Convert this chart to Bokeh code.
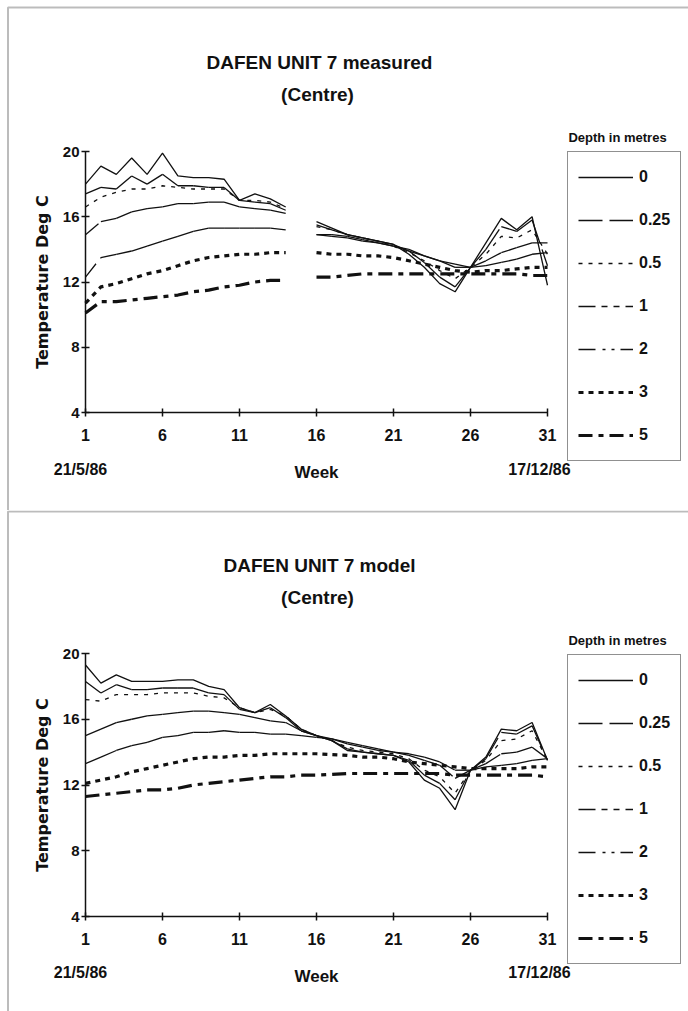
import math
from bokeh.plotting import figure
from bokeh.layouts import column
from bokeh.models import (Range1d, LinearAxis, FixedTicker, Label, Legend,
                          LegendItem, BoxAnnotation)
from bokeh.embed import file_html
from bokeh.resources import INLINE

NaN = float("nan")

# ---------------- data ----------------
weeks = list(range(1, 32))
depths = ["0", "0.25", "0.5", "1", "2", "3", "5"]
x_ticks = [1, 6, 11, 16, 21, 26, 31]
y_ticks = [4, 8, 12, 16, 20]
start_date = "21/5/86"
end_date = "17/12/86"
title_measured = "DAFEN UNIT 7 measured"
title_model = "DAFEN UNIT 7 model"
subtitle = "(Centre)"
legend_title = "Depth in metres"

meas_0 = [18.0, 19.1, 18.6, 19.6, 18.6, 19.9, 18.5, 18.4, 18.4, 18.3, 17.0, 17.4, 17.1, 16.6, NaN,
          15.7, 15.3, 14.9, 14.7, 14.5, 14.3, 13.7, 12.9, 11.9, 11.4, 12.9, 14.4, 15.9, 15.2, 16.0, 11.8]
meas_025 = [17.4, 17.8, 17.7, 18.5, 18.0, 18.6, 17.9, 17.9, 17.8, 17.8, 17.0, 16.9, 16.8, 16.4, NaN,
            15.5, 15.2, 14.9, 14.7, 14.5, 14.3, 13.9, 13.2, 12.3, 11.7, 12.9, 14.0, 15.4, 15.1, 15.8, 13.0]
meas_05 = [16.6, 17.2, 17.5, 17.7, 17.7, 17.9, 17.8, 17.7, 17.7, 17.7, 17.0, 17.0, 16.9, 16.5, NaN,
           15.4, 15.2, 14.9, 14.7, 14.5, 14.2, 13.8, 13.3, 12.7, 12.2, 12.9, 13.7, 14.8, 14.7, 15.2, 13.7]
meas_1 = [14.9, 15.7, 15.9, 16.3, 16.5, 16.6, 16.8, 16.8, 16.9, 16.9, 16.6, 16.5, 16.4, 16.2, NaN,
          14.9, 14.9, 14.8, 14.6, 14.4, 14.2, 14.0, 13.6, 13.3, 12.9, 12.9, 13.3, 13.8, 14.1, 14.4, 14.4]
meas_2 = [12.3, 13.5, 13.7, 13.9, 14.2, 14.5, 14.8, 15.1, 15.3, 15.3, 15.3, 15.3, 15.3, 15.2, NaN,
          14.9, 14.8, 14.7, 14.5, 14.4, 14.2, 13.9, 13.6, 13.3, 13.1, 12.9, 13.0, 13.2, 13.4, 13.7, 13.8]
meas_3 = [10.7, 11.7, 11.9, 12.2, 12.5, 12.7, 13.0, 13.3, 13.5, 13.6, 13.7, 13.7, 13.8, 13.8, NaN,
          13.8, 13.7, 13.7, 13.6, 13.6, 13.5, 13.3, 13.1, 12.9, 12.7, 12.6, 12.7, 12.7, 12.8, 12.9, 12.9]
meas_5 = [10.1, 10.8, 10.8, 10.9, 11.0, 11.1, 11.2, 11.4, 11.5, 11.7, 11.8, 12.0, 12.1, 12.1, NaN,
          12.3, 12.3, 12.4, 12.5, 12.5, 12.5, 12.5, 12.5, 12.5, 12.5, 12.5, 12.5, 12.5, 12.5, 12.4, 12.4]

model_0 = [19.3, 18.2, 18.7, 18.3, 18.3, 18.3, 18.4, 18.4, 18.0, 17.8, 16.7, 16.4, 16.9, 16.2, 15.4,
           15.0, 14.7, 14.1, 14.0, 13.9, 13.8, 13.4, 12.3, 11.8, 10.5, 12.9, 13.7, 15.4, 15.3, 15.8, 13.5]
model_025 = [18.3, 17.6, 18.1, 17.8, 17.8, 17.9, 17.9, 17.9, 17.6, 17.5, 16.6, 16.4, 16.7, 16.1, 15.3,
             15.0, 14.7, 14.2, 14.0, 13.9, 13.8, 13.5, 12.6, 12.1, 11.1, 12.9, 13.6, 15.2, 15.1, 15.6, 13.5]
model_05 = [17.2, 17.1, 17.5, 17.5, 17.5, 17.6, 17.6, 17.6, 17.4, 17.3, 16.7, 16.4, 16.6, 16.2, 15.4,
            15.0, 14.7, 14.3, 14.1, 14.0, 13.9, 13.6, 12.9, 12.5, 11.5, 12.9, 13.5, 14.7, 14.8, 15.3, 13.5]
model_1 = [15.0, 15.4, 15.8, 16.0, 16.2, 16.3, 16.4, 16.5, 16.5, 16.4, 16.3, 16.1, 15.9, 15.8, 15.3,
           15.0, 14.8, 14.5, 14.3, 14.1, 14.0, 13.8, 13.5, 13.2, 12.4, 12.9, 13.3, 13.9, 14.0, 14.3, 13.6]
model_2 = [13.3, 13.7, 14.1, 14.4, 14.6, 14.9, 15.0, 15.2, 15.2, 15.3, 15.2, 15.2, 15.1, 15.1, 15.0,
           14.9, 14.8, 14.6, 14.4, 14.2, 14.0, 13.9, 13.7, 13.4, 12.9, 12.9, 13.1, 13.2, 13.3, 13.5, 13.6]
model_3 = [12.1, 12.3, 12.5, 12.8, 13.0, 13.2, 13.4, 13.6, 13.7, 13.7, 13.8, 13.8, 13.9, 13.9, 13.9,
           13.9, 13.85, 13.8, 13.7, 13.7, 13.6, 13.4, 13.3, 13.2, 13.1, 13.0, 13.0, 13.0, 13.0, 13.1, 13.1]
model_5 = [11.3, 11.4, 11.5, 11.6, 11.7, 11.7, 11.8, 12.0, 12.1, 12.2, 12.3, 12.4, 12.5, 12.5, 12.6,
           12.6, 12.65, 12.7, 12.7, 12.7, 12.7, 12.7, 12.7, 12.7, 12.6, 12.6, 12.6, 12.6, 12.6, 12.6, 12.5]

measured = [meas_0, meas_025, meas_05, meas_1, meas_2, meas_3, meas_5]
model = [model_0, model_025, model_05, model_1, model_2, model_3, model_5]

# ---------------- styles ----------------
# (dash, width, dash pattern restarts at every weekly segment as in the old spreadsheet)
line_styles = [("solid", 1.3, False), ("24 7", 1.3, True), ("4 6", 1.3, False),
               ("17 6 6 6 6 6", 1.3, True), ("17 7 3 6 3 6", 1.3, True),
               ("5 5", 3.2, False), ("14 6 5 6", 3.2, False)]
FONT = "Liberation Sans"
INK = "#111111"
W = 688


def segments(vals):
    xs, ys = [], []
    for i in range(len(weeks) - 1):
        a, b = vals[i], vals[i + 1]
        if math.isnan(a) or math.isnan(b):
            continue
        xs.append([weeks[i], weeks[i + 1]])
        ys.append([a, b])
    return xs, ys


def make_panel(title, series, height, y20_px, y4_px, dy, draw_top_border):
    x1_px, x31_px = 85.0, 547.0
    xs_ = (x31_px - x1_px) / 30.0
    ys_ = (y4_px - y20_px) / 16.0

    def X(px):
        return 1 + (px - x1_px) / xs_

    def Y(py):
        return 4 + (y4_px - py) / ys_

    p = figure(width=W, height=height, output_backend="svg", toolbar_location=None,
               x_axis_type=None, y_axis_type=None,
               x_range=Range1d(X(0), X(W)), y_range=Range1d(Y(height), Y(0)),
               min_border=0, min_border_left=0, min_border_right=0,
               min_border_top=0, min_border_bottom=0)
    p.title.visible = False
    p.outline_line_color = None
    p.xgrid.visible = False
    p.ygrid.visible = False
    p.background_fill_color = "white"
    p.border_fill_color = "white"

    # panel border (left / top)
    top_edge = 1 if draw_top_border else 7
    p.add_layout(BoxAnnotation(left=X(7.5), right=X(W + 50), top=Y(top_edge),
                               bottom=Y(height + 50), fill_color=None,
                               line_color="#222222", line_width=2))

    renderers = []
    for vals, (dash, lw, per_seg) in zip(series, line_styles):
        if per_seg:
            sx, sy = segments(vals)
            r = p.multi_line(sx, sy, line_color=INK, line_width=lw, line_dash=dash)
        else:
            r = p.line(weeks, vals, line_color=INK, line_width=lw, line_dash=dash)
        renderers.append(r)

    # axes
    yaxis = LinearAxis(fixed_location=1, bounds=(4, 20), ticker=FixedTicker(ticks=y_ticks))
    yaxis.axis_label = "Temperature Deg C"
    yaxis.axis_label_text_font = "DejaVu Sans"
    yaxis.axis_label_text_font_style = "bold"
    yaxis.axis_label_text_font_size = "16px"
    yaxis.axis_label_text_color = INK
    yaxis.axis_label_standoff = 8
    yaxis.major_label_text_font = FONT
    yaxis.major_label_text_font_style = "bold"
    yaxis.major_label_text_font_size = "15px"
    yaxis.major_label_text_color = INK
    yaxis.major_label_standoff = 2
    yaxis.major_tick_in = 4
    yaxis.major_tick_out = 4
    yaxis.minor_tick_in = 0
    yaxis.minor_tick_out = 0
    yaxis.axis_line_width = 1.5
    yaxis.axis_line_color = INK
    yaxis.major_tick_line_color = INK
    yaxis.major_tick_line_width = 1.5
    p.add_layout(yaxis, "left")

    xaxis = LinearAxis(fixed_location=4, bounds=(1, 31), ticker=FixedTicker(ticks=x_ticks))
    xaxis.axis_label = "Week"
    xaxis.axis_label_text_font = FONT
    xaxis.axis_label_text_font_style = "bold"
    xaxis.axis_label_text_font_size = "17px"
    xaxis.axis_label_text_color = INK
    xaxis.axis_label_standoff = 19
    xaxis.major_label_text_font = FONT
    xaxis.major_label_text_font_style = "bold"
    xaxis.major_label_text_font_size = "16px"
    xaxis.major_label_text_color = INK
    xaxis.major_label_standoff = 12
    xaxis.major_tick_in = 4
    xaxis.major_tick_out = 4
    xaxis.minor_tick_in = 0
    xaxis.minor_tick_out = 0
    xaxis.axis_line_width = 1.5
    xaxis.axis_line_color = INK
    xaxis.major_tick_line_color = INK
    xaxis.major_tick_line_width = 1.5
    p.add_layout(xaxis, "below")

    def label(text, px, py, size, font=FONT):
        p.add_layout(Label(x=X(px), y=Y(py + dy), text=text, text_align="center",
                           text_baseline="middle", text_font=font,
                           text_font_style="bold", text_font_size=size,
                           text_color=INK))

    label(title, 319, 62, "19px")
    label(subtitle, 317, 94, "19px")
    label(legend_title, 617, 137, "13px")
    label(start_date, 80, 469, "16px")
    label(end_date, 539, 469, "16px")

    legend = Legend(items=[LegendItem(label=d, renderers=[r]) for d, r in zip(depths, renderers)],
                    location=(567, height - (461 + dy)))
    legend.border_line_color = "#222222"
    legend.border_line_width = 1.5
    legend.background_fill_color = "white"
    legend.background_fill_alpha = 1.0
    legend.padding = 10
    legend.spacing = 13
    legend.margin = 0
    legend.label_height = 30
    legend.glyph_height = 30
    legend.glyph_width = 55
    legend.label_standoff = 6
    legend.label_text_font = FONT
    legend.label_text_font_style = "bold"
    legend.label_text_font_size = "16px"
    legend.label_text_color = INK
    p.add_layout(legend, "center")
    return p


p1 = make_panel(title_measured, measured, 510, 151, 412, 0, False)
p2 = make_panel(title_model, model, 501, 143, 406, -7, True)

layout = column(p1, p2, spacing=0)
open("out.html", "w").write(file_html(layout, INLINE))
